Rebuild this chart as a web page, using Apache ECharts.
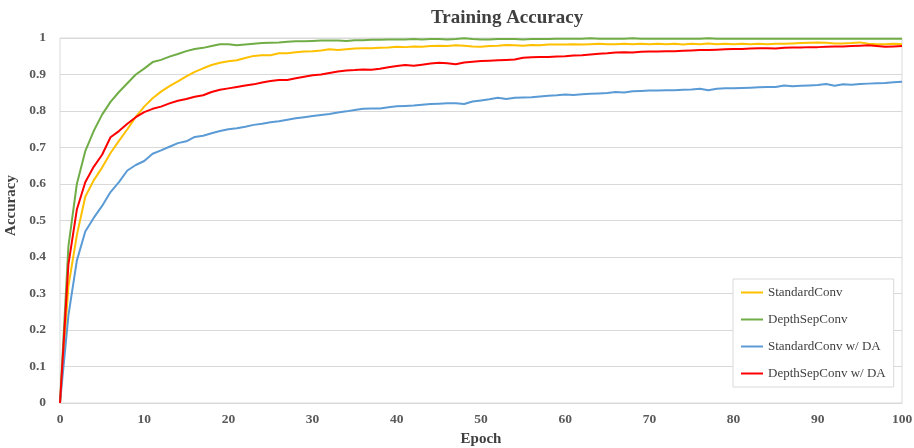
<!DOCTYPE html>
<html>
<head>
<meta charset="utf-8">
<script src="https://cdn.jsdelivr.net/npm/echarts@6/dist/echarts.min.js"></script>
<style>
  html, body { margin: 0; padding: 0; background: #fff; }
  #chart { width: 914px; height: 448px; }
</style>
</head>
<body>
<div id="chart"></div>
<script>
// epochs 0..100
var epochs = [];
for (var i = 0; i <= 100; i++) epochs.push(i);

var seriesNames = ['StandardConv', 'DepthSepConv', 'StandardConv w/ DA', 'DepthSepConv w/ DA'];

var standardConv = [
  0, 0.32, 0.46, 0.565, 0.61, 0.645, 0.685, 0.718, 0.75, 0.784,
  0.812, 0.835, 0.853, 0.868, 0.881, 0.895, 0.907, 0.917, 0.926, 0.932,
  0.936, 0.939, 0.945, 0.951, 0.953, 0.953, 0.958, 0.958, 0.961, 0.963,
  0.964, 0.966, 0.969, 0.967, 0.969, 0.971, 0.972, 0.972, 0.973, 0.974,
  0.976, 0.975, 0.977, 0.976, 0.978, 0.979, 0.978, 0.98, 0.979, 0.977,
  0.976, 0.978, 0.979, 0.981, 0.98, 0.979, 0.981, 0.98, 0.982, 0.982,
  0.982, 0.983, 0.982, 0.983, 0.984, 0.983, 0.983, 0.984, 0.983, 0.984,
  0.983, 0.984, 0.983, 0.984, 0.982, 0.984, 0.983, 0.985, 0.983, 0.984,
  0.983, 0.984, 0.983, 0.984, 0.983, 0.984, 0.984, 0.985, 0.986, 0.987,
  0.988, 0.987, 0.985, 0.985, 0.986, 0.988, 0.984, 0.983, 0.983, 0.984,
  0.983
];

var depthSepConv = [
  0, 0.43, 0.6, 0.69, 0.745, 0.79, 0.825, 0.852, 0.876, 0.9,
  0.916, 0.934, 0.94, 0.949, 0.956, 0.964, 0.97, 0.973, 0.978, 0.983,
  0.983, 0.98, 0.982, 0.984, 0.986, 0.987, 0.988, 0.99, 0.991, 0.991,
  0.992, 0.993, 0.993, 0.993, 0.992, 0.994, 0.994, 0.995, 0.995, 0.996,
  0.996, 0.996, 0.997, 0.996, 0.997, 0.997, 0.996, 0.997, 0.999, 0.997,
  0.996, 0.996, 0.997, 0.997, 0.997, 0.996, 0.997, 0.997, 0.997, 0.998,
  0.998, 0.998, 0.998, 0.999, 0.998, 0.998, 0.998, 0.998, 0.999, 0.998,
  0.998, 0.998, 0.998, 0.998, 0.998, 0.998, 0.998, 0.999, 0.998, 0.998,
  0.998, 0.998, 0.998, 0.998, 0.998, 0.998, 0.998, 0.998, 0.998, 0.998,
  0.998, 0.998, 0.998, 0.998, 0.998, 0.998, 0.998, 0.998, 0.998, 0.998,
  0.998
];

var standardConvDA = [
  0, 0.24, 0.39, 0.47, 0.507, 0.54, 0.578, 0.605, 0.637, 0.652,
  0.663, 0.683, 0.692, 0.702, 0.712, 0.717, 0.729, 0.732, 0.739, 0.745,
  0.75, 0.753, 0.757, 0.762, 0.765, 0.769, 0.772, 0.776, 0.78, 0.783,
  0.786, 0.789, 0.792, 0.796, 0.799, 0.803, 0.806, 0.807, 0.807, 0.81,
  0.813, 0.814, 0.815, 0.817, 0.819, 0.82, 0.821, 0.821, 0.819, 0.826,
  0.829, 0.832, 0.836, 0.833, 0.836, 0.837, 0.838, 0.84, 0.842, 0.843,
  0.845, 0.844, 0.846, 0.847, 0.848, 0.849, 0.852, 0.851, 0.854, 0.855,
  0.856, 0.856, 0.857, 0.857, 0.858, 0.859, 0.861, 0.857, 0.861, 0.862,
  0.862, 0.863, 0.864, 0.865, 0.866, 0.866, 0.87, 0.868, 0.869, 0.87,
  0.871, 0.874, 0.869, 0.873, 0.872, 0.874, 0.875, 0.876, 0.877, 0.879,
  0.88
];

var depthSepConvDA = [
  0, 0.38, 0.53, 0.605, 0.647, 0.68, 0.728, 0.745, 0.765, 0.783,
  0.797, 0.806, 0.812, 0.821, 0.828, 0.833, 0.839, 0.843, 0.852, 0.858,
  0.862, 0.866, 0.87, 0.873, 0.878, 0.882, 0.885, 0.885, 0.89, 0.894,
  0.898, 0.9, 0.904, 0.908, 0.911, 0.912, 0.914, 0.913, 0.916, 0.92,
  0.923, 0.926, 0.924, 0.927, 0.93, 0.932, 0.931, 0.928, 0.933, 0.935,
  0.937, 0.938, 0.939, 0.94, 0.941, 0.946, 0.947, 0.948, 0.948, 0.949,
  0.95, 0.952, 0.953, 0.955, 0.957, 0.958, 0.96, 0.961, 0.96, 0.962,
  0.963, 0.963, 0.964, 0.964, 0.965, 0.966, 0.967, 0.967, 0.968, 0.969,
  0.97, 0.97, 0.971, 0.972, 0.972, 0.971, 0.973, 0.974, 0.974, 0.975,
  0.975, 0.976, 0.977, 0.977, 0.978, 0.979, 0.98, 0.978, 0.976, 0.977,
  0.978
];

var colors = ['#FFC000', '#70AD47', '#5B9BD5', '#FF0000'];
var values = [standardConv, depthSepConv, standardConvDA, depthSepConvDA];

function pairs(arr) {
  return arr.map(function (v, i) { return [epochs[i], v]; });
}

var font = '"Liberation Serif", "DejaVu Serif", serif';
var myChart = echarts.init(document.getElementById('chart'));

var option = {
  animation: false,
  color: colors,
  title: {
    text: 'Training Accuracy',
    left: 426,
    top: 4,
    textStyle: { fontFamily: font, fontSize: 19, fontWeight: 'bold', color: '#404040' }
  },
  grid: {
    left: 60,
    right: 12,
    top: 38,
    bottom: 45,
    outerBoundsMode: 'none',
    containLabel: false,
    show: true,
    borderColor: '#d9d9d9',
    borderWidth: 1
  },
  legend: {
    orient: 'vertical',
    left: 733,
    top: 279,
    width: 159,
    padding: [7, 8, 7, 8],
    itemGap: 14,
    itemWidth: 22,
    itemHeight: 2,
    icon: 'rect',
    borderColor: '#d9d9d9',
    borderWidth: 1,
    backgroundColor: '#fff',
    data: seriesNames,
    textStyle: { fontFamily: font, fontSize: 13, color: '#404040', padding: [0, 28, 0, 0] }
  },
  xAxis: {
    type: 'value',
    min: 0,
    max: 100,
    interval: 10,
    name: 'Epoch',
    nameLocation: 'middle',
    nameGap: 27,
    nameTextStyle: { fontFamily: font, fontSize: 15, fontWeight: 'bold', color: '#404040' },
    axisLine: { show: true, lineStyle: { color: '#d9d9d9' } },
    axisTick: { show: false },
    splitLine: { show: false },
    axisLabel: { fontFamily: font, fontSize: 13.5, fontWeight: 'bold', color: '#595959', margin: 10 }
  },
  yAxis: {
    type: 'value',
    min: 0,
    max: 1,
    interval: 0.1,
    name: 'Accuracy',
    nameLocation: 'middle',
    nameGap: 35,
    nameTextStyle: { fontFamily: font, fontSize: 15, fontWeight: 'bold', color: '#404040', padding: [0, 0, 0, 30] },
    axisLine: { show: false },
    axisTick: { show: false },
    splitLine: { lineStyle: { color: '#d9d9d9' } },
    axisLabel: { fontFamily: font, fontSize: 13.5, fontWeight: 'bold', color: '#595959', margin: 14 }
  },
  series: seriesNames.map(function (name, k) {
    return {
      name: name,
      type: 'line',
      data: pairs(values[k]),
      showSymbol: false,
      symbol: 'none',
      lineStyle: { width: 2, color: colors[k] },
      itemStyle: { color: colors[k] }
    };
  })
};

myChart.setOption(option);
</script>
</body>
</html>
